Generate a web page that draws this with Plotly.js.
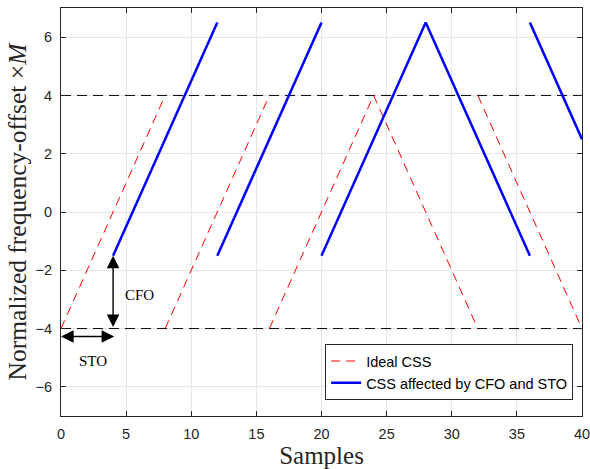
<!DOCTYPE html>
<html><head><meta charset="utf-8">
<script src="https://cdn.plot.ly/plotly-3.0.1.min.js"></script>
<style>body{margin:0}#c{width:590px;height:469px}</style>
</head><body><div id="c"></div>
<script>
const idealX = [0, 8, null, 8, 16, null, 16, 24, 32, null, 32, 40];
const idealY = [-4, 4, null, -4, 4, null, -4, 4, -4, null, 4, -4];
const cssX = [4, 12, null, 12, 20, null, 20, 28, 36, null, 36, 40];
const cssY = [-1.5, 6.5, null, -1.5, 6.5, null, -1.5, 6.5, -1.5, null, 6.5, 2.5];
const refX = [0, 40, null, 0, 40];
const refY = [4, 4, null, -4, -4];
const xTicks = [0, 5, 10, 15, 20, 25, 30, 35, 40];
const yTicks = [-6, -4, -2, 0, 2, 4, 6];

const traces = [
  {x: refX, y: refY, mode: 'lines', line: {color: '#000', width: 1, dash: '10px,6px'}, showlegend: false, hoverinfo: 'skip'},
  {x: idealX, y: idealY, mode: 'lines', name: 'Ideal CSS', line: {color: '#ff0000', width: 1, dash: '9px,6px'}},
  {x: cssX, y: cssY, mode: 'lines', name: 'CSS affected by CFO and STO', line: {color: '#0000ff', width: 2.5}}
];
const axisCommon = {
  showline: true, mirror: 'ticks', linecolor: '#262626', linewidth: 1,
  ticks: 'inside', ticklen: 5, tickcolor: '#262626',
  showgrid: true, gridcolor: '#e6e6e6', gridwidth: 1, zeroline: false,
  ticklabelstandoff: 5, ticklabeloverflow: 'allow',
  tickfont: {family: 'Liberation Sans, Arial', size: 14.5, color: '#262626'}
};
const layout = {
  width: 590, height: 469,
  margin: {l: 61, r: 8, t: 8, b: 53},
  paper_bgcolor: '#fff', plot_bgcolor: '#fff',
  xaxis: Object.assign({}, axisCommon, {range: [0, 40], tickvals: xTicks,
    title: {text: 'Samples', font: {family: 'Liberation Serif, serif', size: 25, color: '#262626'}, standoff: 1}}),
  yaxis: Object.assign({}, axisCommon, {range: [-7, 7], tickvals: yTicks,
    title: {text: 'Normalized frequency-offset ×<i>M</i>', font: {family: 'Liberation Serif, serif', size: 25.5, color: '#262626'}, standoff: 1}}),
  legend: {x: 0.983, xanchor: 'right', y: 0.039, yanchor: 'bottom',
    bgcolor: '#fff', bordercolor: '#262626', borderwidth: 1,
    font: {family: 'Liberation Sans, Arial', size: 14.5, color: '#000'}, tracegroupgap: 0},
  annotations: [
    {x: 4, y: -1.5, ax: 4, ay: -4, xref: 'x', yref: 'y', axref: 'x', ayref: 'y', text: '',
     showarrow: true, arrowhead: 2, startarrowhead: 2, arrowside: 'end+start', arrowsize: 1.8, startarrowsize: 1.8, arrowwidth: 1.4, arrowcolor: '#000', standoff: 0, startstandoff: 0},
    {x: 0, y: -4.27, ax: 4.2, ay: -4.27, xref: 'x', yref: 'y', axref: 'x', ayref: 'y', text: '',
     showarrow: true, arrowhead: 2, startarrowhead: 2, arrowside: 'end+start', arrowsize: 1.8, startarrowsize: 1.8, arrowwidth: 1.4, arrowcolor: '#000', standoff: 0, startstandoff: 0},
    {x: 6.05, y: -2.85, xref: 'x', yref: 'y', text: 'CFO', showarrow: false,
     font: {family: 'Liberation Serif, serif', size: 15, color: '#000'}},
    {x: 2.45, y: -5.1, xref: 'x', yref: 'y', text: 'STO', showarrow: false,
     font: {family: 'Liberation Serif, serif', size: 15, color: '#000'}}
  ]
};
Plotly.newPlot('c', traces, layout, {displayModeBar: false, staticPlot: true});
</script></body></html>
